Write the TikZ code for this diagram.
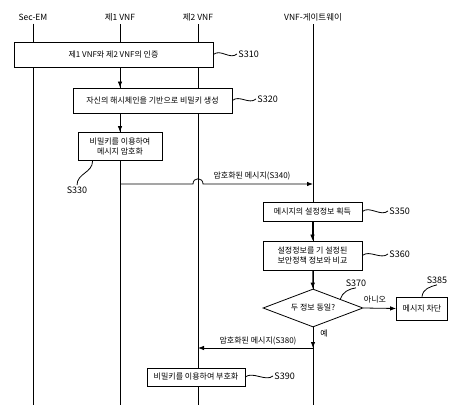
\documentclass[tikz,border=0pt]{standalone}
\usepackage{fontspec}
\setmainfont{Noto Sans CJK KR}
\usetikzlibrary{calc,positioning,shapes.geometric,arrows.meta}

\begin{document}
\begin{tikzpicture}[x=1pt,y=-1pt,line width=0.8pt,
    font=\fontsize{8}{10}\selectfont,
    stepbox/.style={draw,fill=white,inner sep=1pt,align=center},
    steplabel/.style={font=\fontsize{9}{10}\selectfont,inner sep=1pt},
    msg/.style={-{Latex[length=6pt,width=4.5pt]}},
    squig/.style={to path={.. controls +(7,-6) and +(-7,6) .. (\tikztotarget)}}]
  \useasboundingbox (0,0) rectangle (460,411);
  % lifelines
  \foreach \n/\x/\t in {sec/33/Sec-EM,vnfa/120/제1 VNF,vnfb/198/제2 VNF,gw/313/VNF-게이트웨이} {
    \node[inner sep=3pt,font=\fontsize{8.5}{10}\selectfont] (\n) at (\x,17) {\t};
    \coordinate (\n-end) at (\x,405);
    \draw (\n) -- (\n-end);
  }
  % S310 - S330
  \node[stepbox,minimum width=199pt,minimum height=25pt] (s310) at (113.5,54.5) {제1 VNF와 제2 VNF의 인증};
  \node[steplabel,anchor=west] (l310) at (237,54) {S310};
  \draw (s310.east) to[squig] (l310.west);
  \node[stepbox,minimum width=159pt,minimum height=25pt] (s320) at (152.5,100.5) {자신의 해시체인을 기반으로 비밀키 생성};
  \node[steplabel,anchor=west] (l320) at (256,99) {S320};
  \draw (s320.east) to[squig] (l320.west);
  \node[stepbox,minimum width=84pt,minimum height=28pt] (s330) at (120,146.5) {비밀키를 이용하여\\메시지 암호화};
  \node[steplabel] (l330) at (77,190) {S330};
  \draw ($(s330.south west)+(15,0)$) .. controls +(0,12) and +(0,-12) .. (l330.north);
  \draw[msg] (s310.south -| vnfa) -- (s320.north -| vnfa);
  \draw[msg] (s320.south -| s330) -- (s330);
  % S340
  \coordinate (m340a) at (120,184);
  \coordinate (m340b) at (313,184);
  \draw[msg] (m340a) -- ($(m340a -| vnfb)+(-5,0)$)
    .. controls +(0,-7) and +(0,-7) .. ($(m340a -| vnfb)+(5,0)$) -- (m340b);
  \node (t340) at (252,176) {암호화된 메시지(S340)};
  % S350 - S385
  \node[stepbox,minimum width=99pt,minimum height=19pt] (s350) at (312.5,211.5) {메시지의 설정정보 획득};
  \node[steplabel,anchor=west] (l350) at (388,211) {S350};
  \draw (s350.east) to[squig] (l350.west);
  \node[stepbox,minimum width=99pt,minimum height=29pt] (s360) at (312.5,255.5) {설정정보를 기 설정된\\보안정책 정보와 비교};
  \node[steplabel,anchor=west] (l360) at (388,254) {S360};
  \draw (s360.east) to[squig] (l360.west);
  \node[draw,fill=white,diamond,aspect=2.6,inner sep=0pt,minimum width=100pt,minimum height=38pt] (dia) at (313,308) {두 정보 동일?};
  \node[steplabel] (l370) at (356,283) {S370};
  \draw (dia.18) .. controls +(2,-7) and +(-7,1) .. (l370.south);
  \node[stepbox,minimum width=51pt,minimum height=23pt] (s385) at (422,308.5) {메시지 차단};
  \node[steplabel] (l385) at (437,280) {S385};
  \draw (s385.north) .. controls +(1,-8) and +(-7,2) .. (l385.south);
  \draw[msg] (s350) -- (s360);
  \draw[msg] (s360) -- (dia);
  \draw[msg] (dia.east) -- (s385.west);
  \node (no) at (375,300) {아니오};
  \node (yes) at (324,334) {예};
  % S380 - S390
  \coordinate (m380a) at (313,348);
  \coordinate (m380b) at (198,348);
  \draw[msg] (dia.south) -- (m380a);
  \draw[msg] (m380a) -- (m380b);
  \node (t380) at (258,341) {암호화된 메시지(S380)};
  \node[stepbox,minimum width=98pt,minimum height=18pt] (s390) at (196,377) {비밀키를 이용하여 부호화};
  \node[steplabel,anchor=west] (l390) at (273,376) {S390};
  \draw (s390.east) to[squig] (l390.west);
\end{tikzpicture}
\end{document}
